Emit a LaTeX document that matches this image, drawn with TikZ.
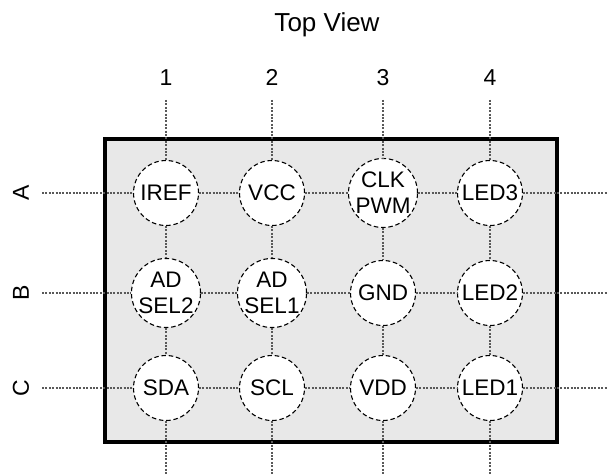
\documentclass[tikz,border=0pt]{standalone}
\usepackage{fontspec}
\setmainfont{Liberation Sans}
\begin{document}
\begin{tikzpicture}[x=1pt,y=1pt,
  pin/.style={circle,draw=black,fill=white,line width=1.1pt,
    dash pattern=on 4.5pt off 2.8pt,minimum size=65pt,inner sep=0pt,
    align=center,font=\fontsize{22.5}{26}\selectfont},
  gridline/.style={draw=black!65,line width=1.2pt,dash pattern=on 2pt off 1.4pt},
  lbl/.style={font=\fontsize{23}{26}\selectfont}]

% 画布
\useasboundingbox (0,0) rectangle (608,475);

% 列与行的位置
\pgfmathsetmacro{\Ca}{166}
\pgfmathsetmacro{\Cb}{272}
\pgfmathsetmacro{\Cc}{383}
\pgfmathsetmacro{\Cd}{490}
\pgfmathsetmacro{\Ra}{282}
\pgfmathsetmacro{\Rb}{182}
\pgfmathsetmacro{\Rc}{87}

% 封装外框
\draw[line width=4pt,fill=black!9] (104.7,33.5) rectangle (556.5,336.3);

% 标题与行列编号
\node[lbl,font=\fontsize{26}{29}\selectfont,anchor=base] (title) at (327,443) {Top View};
\node[lbl,anchor=base] (n1) at (\Ca,389) {1};
\node[lbl,anchor=base] (n2) at (\Cb,389) {2};
\node[lbl,anchor=base] (n3) at (\Cc,389) {3};
\node[lbl,anchor=base] (n4) at (\Cd,389) {4};
\node[lbl,rotate=90] (rA) at (21,\Ra) {A};
\node[lbl,rotate=90] (rB) at (21,\Rb) {B};
\node[lbl,rotate=90] (rC) at (21,\Rc) {C};

% 引脚
\node[pin] (A1) at (\Ca,\Ra) {IREF};
\node[pin] (A2) at (\Cb,\Ra) {VCC};
\node[pin] (A3) at (\Cc,\Ra) {CLK\\PWM};
\node[pin] (A4) at (\Cd,\Ra) {LED3};
\node[pin] (B1) at (\Ca,\Rb) {AD\\SEL2};
\node[pin] (B2) at (\Cb,\Rb) {AD\\SEL1};
\node[pin] (B3) at (\Cc,\Rb) {GND};
\node[pin] (B4) at (\Cd,\Rb) {LED2};
\node[pin] (C1) at (\Ca,\Rc) {SDA};
\node[pin] (C2) at (\Cb,\Rc) {SCL};
\node[pin] (C3) at (\Cc,\Rc) {VDD};
\node[pin] (C4) at (\Cd,\Rc) {LED1};

% 网格线端点
\coordinate (Aw) at (42,\Ra);  \coordinate (Ae) at (608,\Ra);
\coordinate (Bw) at (42,\Rb);  \coordinate (Be) at (608,\Rb);
\coordinate (Cw) at (42,\Rc);  \coordinate (Ce) at (608,\Rc);
\coordinate (T1) at (\Ca,375); \coordinate (D1) at (\Ca,0);
\coordinate (T2) at (\Cb,375); \coordinate (D2) at (\Cb,0);
\coordinate (T3) at (\Cc,375); \coordinate (D3) at (\Cc,0);
\coordinate (T4) at (\Cd,375); \coordinate (D4) at (\Cd,0);

% 行网格线
\draw[gridline] (Aw) -- (A1) -- (A2) -- (A3) -- (A4) -- (Ae);
\draw[gridline] (Bw) -- (B1) -- (B2) -- (B3) -- (B4) -- (Be);
\draw[gridline] (Cw) -- (C1) -- (C2) -- (C3) -- (C4) -- (Ce);

% 列网格线
\draw[gridline] (T1) -- (A1) -- (B1) -- (C1) -- (D1);
\draw[gridline] (T2) -- (A2) -- (B2) -- (C2) -- (D2);
\draw[gridline] (T3) -- (A3) -- (B3) -- (C3) -- (D3);
\draw[gridline] (T4) -- (A4) -- (B4) -- (C4) -- (D4);

\end{tikzpicture}
\end{document}
